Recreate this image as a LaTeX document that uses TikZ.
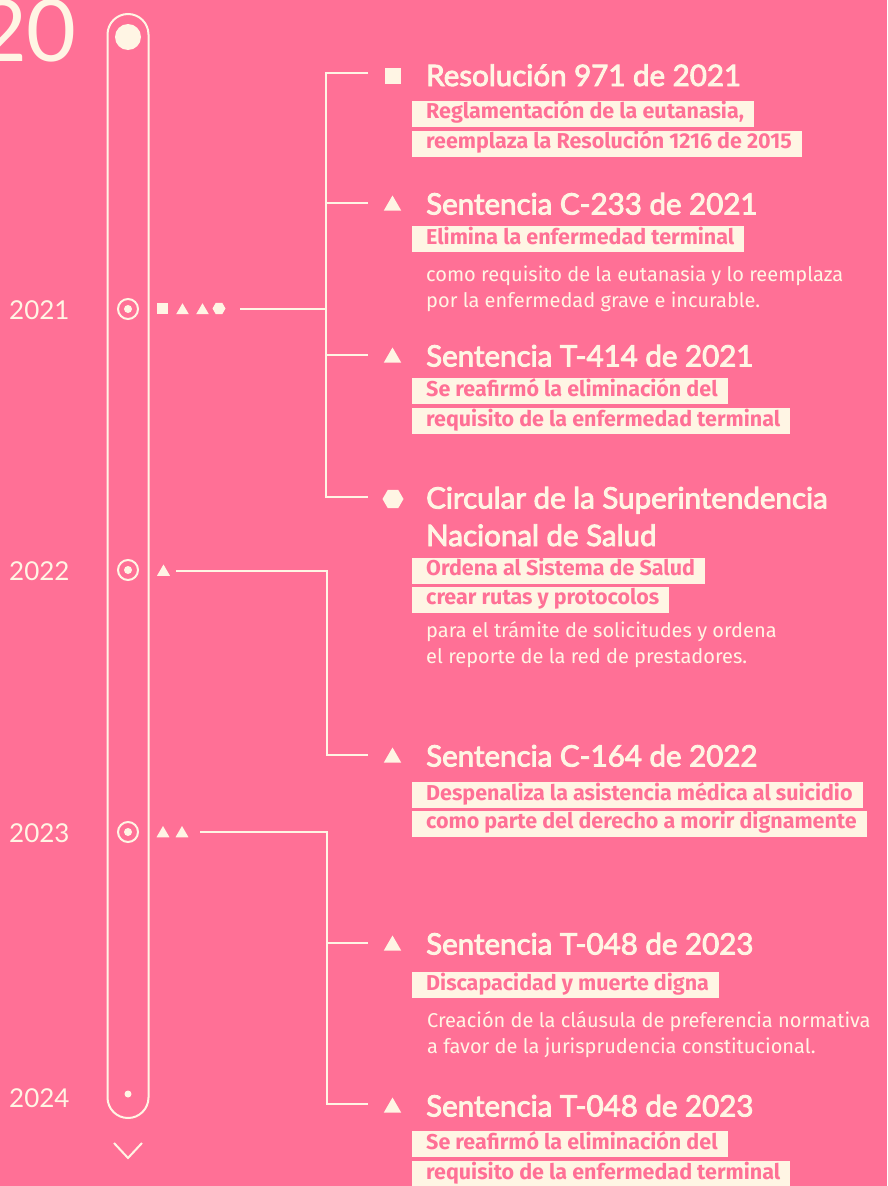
\documentclass[tikz,border=0pt]{standalone}
\usepackage{fontspec}
\setmainfont{Fira Sans}
\newfontfamily\headfont{Lato}[UprightFeatures={FakeBold=3}]
\newfontfamily\yearfont{Lato}
\usetikzlibrary{shapes.geometric}
\definecolor{bgpink}{HTML}{FF7096}
\definecolor{cream}{HTML}{FFF5E4}
\begin{document}
\begin{tikzpicture}[x=1pt,y=-1pt,
 line/.style={draw=cream, line width=2pt},
 heading/.style={anchor=base west, inner sep=0, text=cream, font=\headfont\fontsize{29.5}{34}\selectfont},
 hl/.style={anchor=west, fill=cream, text=bgpink, inner xsep=0, inner ysep=0, minimum height=26pt, text height=15pt, text depth=5pt, font=\bfseries\fontsize{21.5}{24}\selectfont},
 plain/.style={anchor=base west, inner sep=0, text=cream, font=\fontsize{20}{26}\selectfont},
 year/.style={anchor=base west, inner sep=0, text=cream, font=\yearfont\fontsize{26}{30}\selectfont},
 sqmark/.style={fill=cream, rectangle, minimum size=#1, inner sep=0},
 trimark/.style={fill=cream, regular polygon, regular polygon sides=3, minimum size=#1, inner sep=0},
 hexmark/.style={fill=cream, regular polygon, regular polygon sides=6, minimum size=#1, inner sep=0},
 ring/.style={circle, draw=cream, line width=2pt, minimum size=20pt, inner sep=0},
 dot/.style={circle, fill=cream, minimum size=#1, inner sep=0},
]
\fill[bgpink] (0,0) rectangle (887,1186);
\useasboundingbox (0,0) rectangle (887,1186);
\clip (0,0) rectangle (887,1186);

% big "20"
\node[anchor=base east, inner sep=0, text=cream, font=\yearfont\fontsize{86}{90}\selectfont] (big) at (77,61) {20};

% timeline capsule
\draw[line, rounded corners=20.5pt] (107.5,14) rectangle (148.5,1118);
\node[dot=26pt] (topdot) at (128,37) {};
\node[ring] (r21) at (128,309) {}; \node[dot=8pt] (d21) at (128,309) {};
\node[ring] (r22) at (128,570) {}; \node[dot=8pt] (d22) at (128,570) {};
\node[ring] (r23) at (128,832) {}; \node[dot=8pt] (d23) at (128,832) {};
\node[dot=7pt] (d24) at (128,1094) {};
\coordinate (chl) at (114,1143); \coordinate (chm) at (128,1158); \coordinate (chr) at (142,1143);
\draw[line] (chl) -- (chm) -- (chr);

% years
\node[year] (y21) at (9,319) {2021};
\node[year] (y22) at (9,580) {2022};
\node[year] (y23) at (9,842) {2023};
\node[year] (y24) at (9,1107) {2024};

% row markers
\node[sqmark=11pt] (m21a) at (162.5,308.5) {};
\node[trimark=14.5pt] (m21b) at (182.5,310.5) {};
\node[trimark=14.5pt] (m21c) at (202.5,310.5) {};
\node[hexmark=13pt] (m21d) at (219,308.5) {};
\node[trimark=15pt] (m22a) at (163.5,572) {};
\node[trimark=15pt] (m23a) at (163,833.5) {};
\node[trimark=15pt] (m23b) at (182,833.5) {};

% connectors 2021
\coordinate (s21) at (240,309); \coordinate (j21) at (326,309);
\coordinate (v21t) at (326,73); \coordinate (v21b) at (326,497);
\coordinate (v21c) at (326,203); \coordinate (v21d) at (326,355);
\coordinate (e1) at (368,73); \coordinate (e2) at (368,203);
\coordinate (e3) at (368,355); \coordinate (e4) at (368,497);
\draw[line] (s21) -- (j21);
\draw[line] (e1) -- (v21t) -- (v21b) -- (e4);
\draw[line] (v21c) -- (e2);
\draw[line] (v21d) -- (e3);
% connectors 2022
\coordinate (s22) at (176,571); \coordinate (j22) at (327,571);
\coordinate (v22b) at (327,755); \coordinate (e5) at (368,755);
\draw[line] (s22) -- (j22) -- (v22b) -- (e5);
% connectors 2023
\coordinate (s23) at (200,832); \coordinate (j23) at (327,832);
\coordinate (v23m) at (327,943); \coordinate (v23b) at (327,1104);
\coordinate (e6) at (368,943); \coordinate (e7) at (368,1104);
\draw[line] (s23) -- (j23) -- (v23b) -- (e7);
\draw[line] (v23m) -- (e6);

% event 1
\node[sqmark=16pt] (k1) at (393,76) {};
\node[heading] (h1) at (426,86) {Resolución 971 de 2021};
\node[hl] (b1a) at (412,113.5) {\hspace*{14pt}Reglamentación de la eutanasia,\hspace*{10pt}};
\node[hl] (b1b) at (412,143.5) {\hspace*{14pt}reemplaza la Resolución 1216 de 2015\hspace*{10pt}};

% event 2
\node[trimark=20pt] (k2) at (392.5,205.5) {};
\node[heading] (h2) at (426,214.5) {Sentencia C-233 de 2021};
\node[hl] (b2a) at (412,239) {\hspace*{14pt}Elimina la enfermedad terminal\hspace*{10pt}};
\node[plain] (p2a) at (426,281) {como requisito de la eutanasia y lo reemplaza};
\node[plain] (p2b) at (426,307) {por la enfermedad grave e incurable.};

% event 3
\node[trimark=20pt] (k3) at (392.5,357.5) {};
\node[heading] (h3) at (426,366.5) {Sentencia T-414 de 2021};
\node[hl] (b3a) at (412,391) {\hspace*{14pt}Se reafirmó la eliminación del\hspace*{10pt}};
\node[hl] (b3b) at (412,421) {\hspace*{14pt}requisito de la enfermedad terminal\hspace*{10pt}};

% event 4
\node[hexmark=21pt] (k4) at (393,499) {};
\node[heading] (h4) at (426,508.5) {Circular de la Superintendencia};
\node[heading] (h4b) at (426,546) {Nacional de Salud};
\node[hl] (b4a) at (412,570.5) {\hspace*{14pt}Ordena al Sistema de Salud\hspace*{10pt}};
\node[hl] (b4b) at (412,599.5) {\hspace*{14pt}crear rutas y protocolos\hspace*{10pt}};
\node[plain] (p4a) at (426,637) {para el trámite de solicitudes y ordena};
\node[plain] (p4b) at (426,663) {el reporte de la red de prestadores.};

% event 5
\node[trimark=20pt] (k5) at (392.5,757.5) {};
\node[heading] (h5) at (426,766.5) {Sentencia C-164 de 2022};
\node[hl] (b5a) at (412,795) {\hspace*{14pt}Despenaliza la asistencia médica al suicidio\hspace*{10pt}};
\node[hl] (b5b) at (412,823.5) {\hspace*{14pt}como parte del derecho a morir dignamente\hspace*{10pt}};

% event 6
\node[trimark=20pt] (k6) at (392.5,945.5) {};
\node[heading] (h6) at (426,954.5) {Sentencia T-048 de 2023};
\node[hl] (b6a) at (412,985) {\hspace*{14pt}Discapacidad y muerte digna\hspace*{10pt}};
\node[plain] (p6a) at (427,1027) {Creación de la cláusula de preferencia normativa};
\node[plain] (p6b) at (427,1053) {a favor de la jurisprudencia constitucional.};

% event 7
\node[trimark=20pt] (k7) at (392.5,1107.5) {};
\node[heading] (h7) at (426,1116.5) {Sentencia T-048 de 2023};
\node[hl] (b7a) at (412,1144) {\hspace*{14pt}Se reafirmó la eliminación del\hspace*{10pt}};
\node[hl] (b7b) at (412,1174) {\hspace*{14pt}requisito de la enfermedad terminal\hspace*{10pt}};
\end{tikzpicture}
\end{document}
